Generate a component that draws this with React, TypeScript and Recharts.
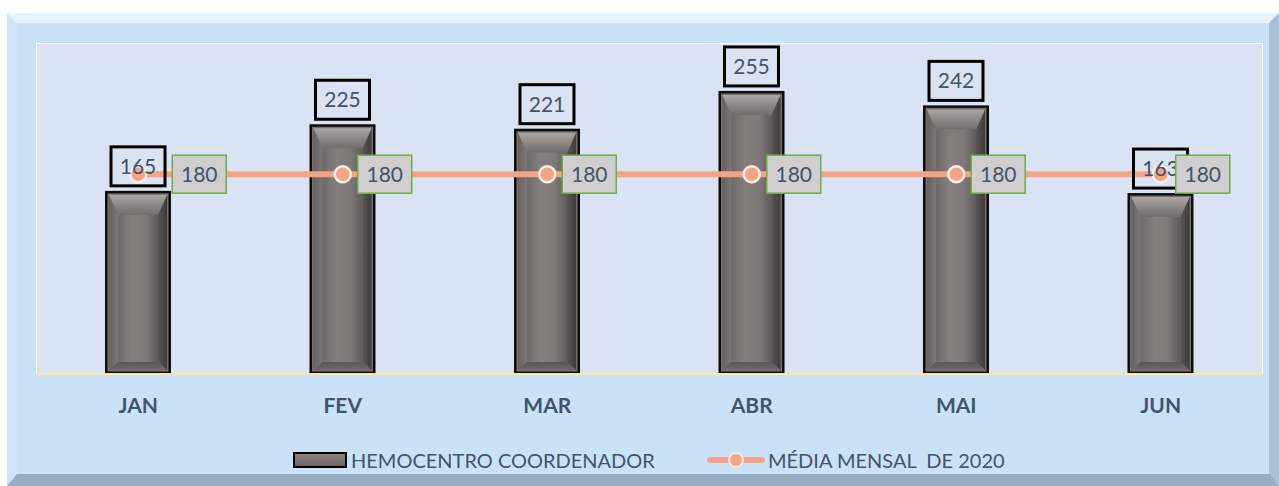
import React from 'react';
import { ComposedChart, Bar, Line, XAxis, YAxis, LabelList, Legend } from 'recharts';

const months = ['JAN', 'FEV', 'MAR', 'ABR', 'MAI', 'JUN'];
const hemocentro = [165, 225, 221, 255, 242, 163];
const mediaMensal = [180, 180, 180, 180, 180, 180];
const seriesNames = ['HEMOCENTRO COORDENADOR', 'MÉDIA MENSAL  DE 2020'];
const yDomain = [0, 300];

const data = months.map((m, i) => ({ month: m, hemo: hemocentro[i], media: mediaMensal[i] }));

const TEXT = '#44546A';
const LINE = '#F3A487';
const FONT = 'Lato, "Open Sans", sans-serif';

const BevelBar = (props: any) => {
  const { x, y, width: w, height: h } = props;
  if (!h || h <= 0) return null;
  const b = 2.5, r = 1.5, s = 9, t = 20, bb = 8;
  const ix = x + b + r, iy = y + b + r, iw = w - 2 * (b + r), ih = h - 2 * (b + r);
  return (
    <g>
      <rect x={x} y={y} width={w} height={h} fill="#0d0d0d" />
      <rect x={x + b} y={y + b} width={w - 2 * b} height={h - 2 * b} fill="#75706e" />
      <polygon points={`${ix},${iy} ${ix + s},${iy + t} ${ix + s},${iy + ih - bb} ${ix},${iy + ih}`} fill="url(#bLeft)" />
      <polygon points={`${ix + iw},${iy} ${ix + iw - s},${iy + t} ${ix + iw - s},${iy + ih - bb} ${ix + iw},${iy + ih}`} fill="url(#bRight)" />
      <polygon points={`${ix},${iy} ${ix + iw},${iy} ${ix + iw - s},${iy + t} ${ix + s},${iy + t}`} fill="url(#bTop)" />
      <polygon points={`${ix},${iy + ih} ${ix + iw},${iy + ih} ${ix + iw - s},${iy + ih - bb} ${ix + s},${iy + ih - bb}`} fill="url(#bBot)" />
      <rect x={ix + s} y={iy + t} width={iw - 2 * s} height={ih - t - bb} fill="url(#bFace)" />
    </g>
  );
};

const BarLabel = (props: any) => {
  const { x, y, width, value } = props;
  const cx = x + width / 2;
  return (
    <g>
      <rect x={cx - 27} y={y - 44} width={54} height={39} fill="none" stroke="#000" strokeWidth={3} />
      <text x={cx} y={y - 24.5} dy="0.36em" textAnchor="middle" fill={TEXT} fontSize={21} fontFamily={FONT}>{value}</text>
    </g>
  );
};

const MediaLabel = (props: any) => {
  const { x, y, value, index } = props;
  const off = index === 0 ? 34 : 15;
  return (
    <g>
      <rect x={x + off} y={y - 19} width={54} height={38} fill="#D0CECE" stroke="#70AD47" strokeWidth={1.5} />
      <text x={x + off + 27} y={y} dy="0.36em" textAnchor="middle" fill={TEXT} fontSize={21} fontFamily={FONT}>{value}</text>
    </g>
  );
};

const Dot = (props: any) => {
  const { cx, cy, index } = props;
  return <circle key={`d${index}`} cx={cx} cy={cy} r={8} fill={LINE} stroke="#FBEDE6" strokeWidth={2.5} />;
};

const LegendContent = () => (
  <div style={{ position: 'relative', width: 1279, height: 40, fontFamily: FONT, fontSize: 20, color: TEXT }}>
    <div style={{ position: 'absolute', left: 293, top: 12, width: 50, height: 12, border: '2px solid #000', background: 'linear-gradient(#8a8583, #6c6765)' }} />
    <div style={{ position: 'absolute', left: 351, top: 6, lineHeight: '28px', whiteSpace: 'pre' }}>{seriesNames[0]}</div>
    <svg style={{ position: 'absolute', left: 704, top: 8 }} width={64} height={24}>
      <line x1={6} y1={12} x2={58} y2={12} stroke={LINE} strokeWidth={6} strokeLinecap="round" />
      <circle cx={32} cy={12} r={7} fill={LINE} stroke="#FBEDE6" strokeWidth={2} />
    </svg>
    <div style={{ position: 'absolute', left: 768, top: 6, lineHeight: '28px', whiteSpace: 'pre' }}>{seriesNames[1]}</div>
  </div>
);

export default function App() {
  return (
    <div style={{ position: 'absolute', left: 0, top: 0, width: 1279, height: 486, background: '#fff', overflow: 'hidden' }}>
      <div style={{
        position: 'absolute', left: 7, top: 13, width: 1272 - 20, height: 473 - 22,
        borderStyle: 'solid', borderWidth: '10px 10px 12px 10px',
        borderColor: '#E6F3FD #A9C0D6 #97ADC3 #CDE5F9',
        background: '#C9E2F8',
      }} />
      <div style={{ position: 'absolute', left: 36, top: 43, width: 1225, height: 331, background: '#DAE3F3', border: '1.5px solid #FFFFFF', borderBottom: 'none' }} />
      <div style={{ position: 'absolute', left: 0, top: 0 }}>
        <ComposedChart width={1279} height={486} data={data} margin={{ top: 41, right: 16, left: 36, bottom: 82 }}>
          <defs>
            <linearGradient id="bLeft" x1="0" y1="0" x2="1" y2="0">
              <stop offset="0" stopColor="#66615f" />
              <stop offset="1" stopColor="#7d7775" />
            </linearGradient>
            <linearGradient id="bRight" x1="0" y1="0" x2="1" y2="0">
              <stop offset="0" stopColor="#5a5554" />
              <stop offset="1" stopColor="#3f3b3a" />
            </linearGradient>
            <linearGradient id="bTop" x1="0" y1="0" x2="0" y2="1">
              <stop offset="0" stopColor="#aca7a4" />
              <stop offset="0.5" stopColor="#8d8885" />
              <stop offset="1" stopColor="#726d6b" />
            </linearGradient>
            <linearGradient id="bBot" x1="0" y1="0" x2="0" y2="1">
              <stop offset="0" stopColor="#5a5655" />
              <stop offset="1" stopColor="#6d6866" />
            </linearGradient>
            <linearGradient id="bFace" x1="0" y1="0" x2="1" y2="0">
              <stop offset="0" stopColor="#6f6a68" />
              <stop offset="0.35" stopColor="#857f7c" />
              <stop offset="0.7" stopColor="#7f7977" />
              <stop offset="1" stopColor="#5f5a58" />
            </linearGradient>
          </defs>
          <XAxis
            dataKey="month"
            axisLine={{ stroke: '#FFE699', strokeWidth: 2 }}
            tickLine={false}
            tickSize={0}
            tickMargin={24}
            height={30}
            tick={{ fill: TEXT, fontSize: 21, fontWeight: 700, fontFamily: FONT }}
          />
          <YAxis hide domain={yDomain} />
          <Bar dataKey="hemo" name={seriesNames[0]} barSize={66} shape={<BevelBar />} isAnimationActive={false}>
            <LabelList dataKey="hemo" content={<BarLabel />} />
          </Bar>
          <Line dataKey="media" name={seriesNames[1]} stroke={LINE} strokeWidth={6} dot={Dot} activeDot={false} isAnimationActive={false}>
            <LabelList dataKey="media" content={<MediaLabel />} />
          </Line>
          <Legend verticalAlign="middle" align="center" layout="horizontal" wrapperStyle={{ left: 0, top: 440, width: 1279, height: 40 }} content={<LegendContent />} />
        </ComposedChart>
      </div>
    </div>
  );
}
